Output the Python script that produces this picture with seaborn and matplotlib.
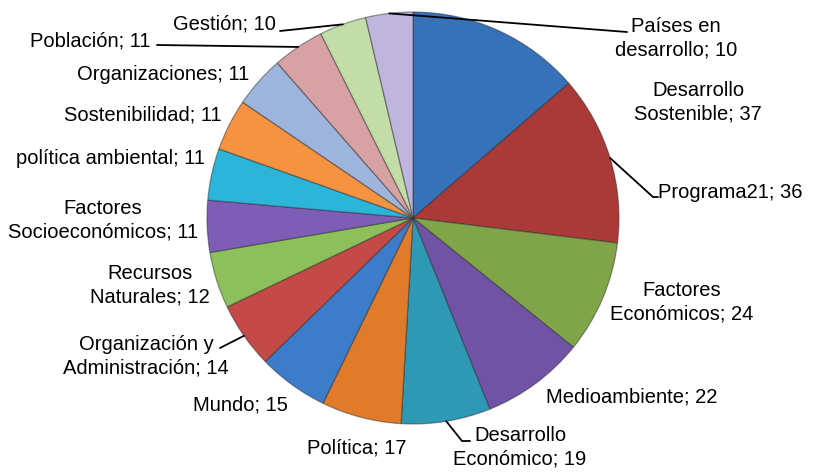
import numpy as np
import matplotlib
matplotlib.use("Agg")
import matplotlib.pyplot as plt
import seaborn as sns

# Data (clockwise from 12 o'clock)
categories = ["Desarrollo\nSostenible", "Programa21", "Factores\nEconómicos", "Medioambiente",
              "Desarrollo\nEconómico", "Política", "Mundo", "Organización y\nAdministración",
              "Recursos\nNaturales", "Factores\nSocioeconómicos", "política ambiental",
              "Sostenibilidad", "Organizaciones", "Población", "Gestión", "Países en\ndesarrollo"]
values = [37, 36, 24, 22, 19, 17, 15, 14, 12, 11, 11, 11, 11, 11, 10, 10]

colors = ["#3572B9", "#A93A37", "#7FA548", "#7053A5", "#2F98B5", "#E07B2C",
          "#3D7CC9", "#C44A47", "#8DC05A", "#7D5DB5", "#2DB5D9", "#F59341",
          "#9DB5DD", "#D8A2A4", "#C2DDA8", "#BFB5DD"]

# label centres in pixel coords (x from left, y from top)
label_pos = [(698, 102), (730, 193), (682, 302), (632, 397), (520, 447), (357, 448),
             (240, 405), (146, 356), (150, 285), (103, 220), (110, 159), (143, 115),
             (163, 75), (90, 41), (224, 24), (676, 38)]
# leader lines: index -> list of points after the rim point
leaders = {1: [(653, 197), (658, 197)], 4: [(462, 441), (470, 441)],
           7: [(220, 348)], 13: [(157, 45)], 14: [(280, 31)], 15: [(627, 32)]}

W, H = 816, 472
cx, cy, r = 413, 218, 206

sns.set_theme(style="white")
plt.rcParams["font.family"] = ["Liberation Sans", "DejaVu Sans"]

fig = plt.figure(figsize=(8.16, 4.72), dpi=100)
ax = fig.add_axes([0, 0, 1, 1])

ax.pie(values, colors=colors, startangle=90, counterclock=False,
       radius=r, center=(cx, H - cy), frame=True,
       wedgeprops=dict(edgecolor=(0.15, 0.15, 0.15, 0.45), linewidth=0.9))

ax.set_xlim(0, W)
ax.set_ylim(0, H)
ax.set_aspect("equal")
ax.axis("off")

total = sum(values)
cum = np.cumsum([0] + values)
for i, (cat, v) in enumerate(zip(categories, values)):
    lx, ly = label_pos[i]
    ax.text(lx, H - ly, f"{cat}; {v}", ha="center", va="center",
            multialignment="center", fontsize=14.5, color="black", linespacing=1.3)
    if i in leaders:
        mid = (cum[i] + v / 2) / total * 2 * np.pi
        px = cx + r * np.sin(mid)
        py = cy - r * np.cos(mid)
        pts = [(px, py)] + leaders[i]
        ax.plot([p[0] for p in pts], [H - p[1] for p in pts], color="black", lw=1.3)

fig.savefig("out.png", dpi=100)
